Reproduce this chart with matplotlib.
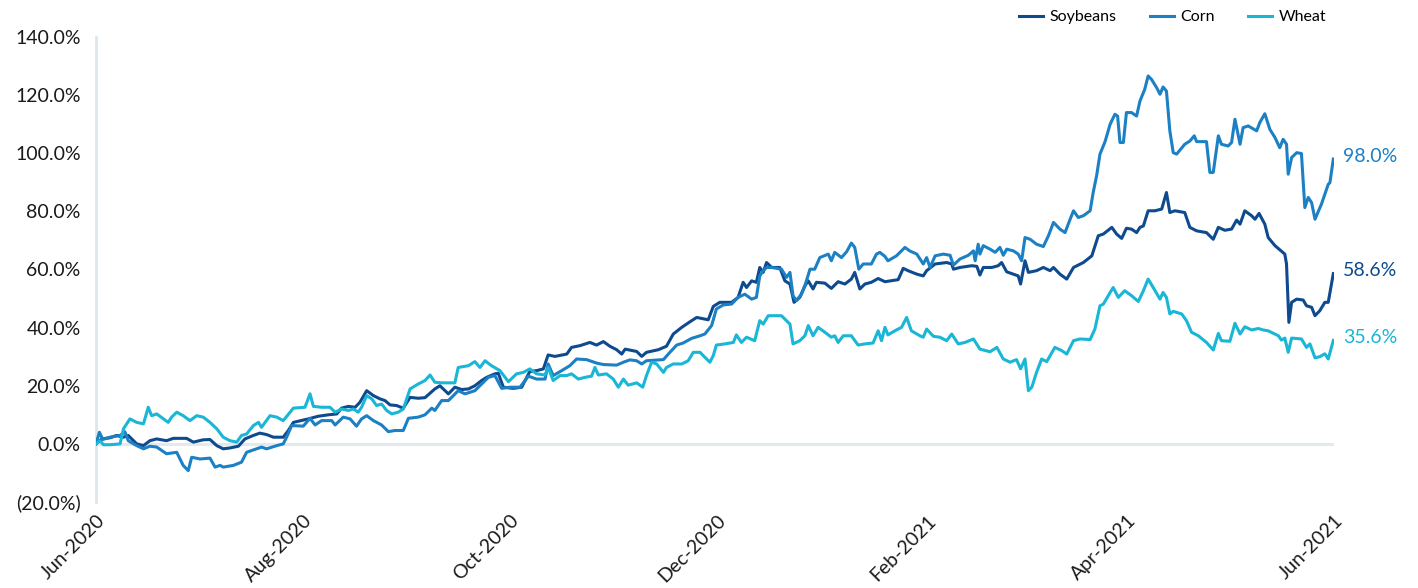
import matplotlib
matplotlib.use("Agg")
import matplotlib.pyplot as plt
import matplotlib.dates as mdates
from matplotlib.ticker import FuncFormatter
from matplotlib.lines import Line2D
import pandas as pd

plt.rcParams['font.family'] = ['Lato', 'DejaVu Sans']

START = pd.Timestamp("2020-06-01")
END = pd.Timestamp("2021-06-01")

# (days since 2020-06-01, cumulative return %)
soybeans = [(0,0.0),(1.7,1.7),(4.1,2.1),(6.1,2.9),(8.1,2.3),(9.5,2.9),(12.0,0.0),(14.0,-0.6),(15.9,1.1),(17.9,1.7),
    (20.8,1.1),(22.8,1.9),(26.7,1.9),(28.7,0.6),(31.6,1.4),(33.6,1.5),(35.6,-0.6),(37.5,-1.7),(39.5,-1.4),(42.0,-0.8),
    (43.9,1.7),(46.4,2.9),(48.3,3.7),(50.3,3.2),(52.3,2.3),(55.2,2.3),(56.7,4.6),(58.2,7.4),(62.6,8.6),(65.5,9.5),
    (68.5,10.0),(71.0,10.3),(72.4,12.3),(74.4,12.9),(76.4,12.6),(77.8,14.3),(79.8,18.3),(81.8,16.6),(83.7,15.5),(85.2,14.9),
    (86.7,13.4),(88.6,13.2),(90.6,12.3),(92.6,16.0),(95.0,15.7),(97.0,15.9),(99.9,18.9),(101.4,20.0),(103.9,17.2),(105.8,19.5),
    (107.8,18.7),(109.8,18.9),(111.7,20.0),(113.7,21.8),(115.2,22.9),(117.6,24.1),(118.6,24.3),(120.1,19.5),(123.0,19.1),(125.5,19.5),
    (127.9,24.9),(129.9,25.2),(131.9,25.8),(133.3,30.6),(135.3,30.1),(138.8,30.9),(140.2,33.2),(142.7,33.8),(145.6,34.9),(147.6,34.0),
    (149.6,35.2),(151.5,33.6),(153.5,32.4),(155.0,30.9),(156.0,32.6),(159.4,31.8),(160.9,30.1),(162.3,31.5),(165.8,32.4),(168.2,33.6),
    (170.2,37.8),(172.7,40.1),(175.1,42.0),(177.1,43.5),(180.5,42.7),(182.0,47.3),(183.9,48.7),(187.4,48.7),(189.3,50.4),(190.8,55.6),
    (191.8,53.8),(193.3,56.1),(194.7,55.6),(195.7,60.7),(196.7,59.0),(197.7,62.4),(199.2,60.7),(201.6,60.7),(203.1,56.1),(204.6,55.0),
    (205.8,48.7),(207.5,50.4),(209.0,54.4),(210.0,56.1),(211.4,53.3),(212.4,55.6),(214.9,55.3),(216.8,53.5),(218.8,55.8),(220.8,55.0),
    (222.7,56.7),(223.7,59.0),(225.2,53.3),(226.7,55.0),(228.6,55.6),(230.6,56.9),(232.6,55.8),(236.5,56.5),(238.0,60.4),(239.4,59.6),
    (242.0,58.4),(243.9,57.8),(244.9,59.6),(247.4,61.9),(250.8,62.4),(252.3,61.9),(252.8,60.1),(254.7,60.7),(258.2,61.3),(259.7,61.1),
    (260.6,58.1),(261.6,60.7),(264.1,60.7),(266.0,61.3),(267.0,62.4),(268.5,59.2),(270.5,58.4),(271.9,57.8),(272.6,55.0),(273.9,63.0),
    (274.9,59.0),(277.3,59.6),(279.3,60.7),(281.3,59.6),(282.3,60.7),(284.2,58.4),(286.2,56.7),(288.2,60.7),(291.1,62.4),(293.6,64.7),
    (295.5,71.6),(297.0,72.2),(299.5,74.5),(300.9,72.2),(302.4,70.7),(303.8,74.2),(305.3,73.9),(306.8,72.7),(307.8,74.5),(308.8,75.0),
    (310.2,80.2),(312.2,80.2),(314.2,80.8),(315.6,86.5),(316.6,79.6),(318.1,80.2),(321.0,79.6),(322.5,74.5),(324.5,73.3),(327.4,72.7),
    (329.4,70.4),(330.9,74.5),(332.8,73.5),(334.8,73.9),(336.3,77.0),(337.3,75.6),(338.7,80.2),(340.7,78.5),(341.7,77.3),(342.9,79.3),
    (344.6,75.6),(345.6,71.0),(347.6,68.2),(350.5,65.3),(351.0,61.9),(351.7,41.8),(352.5,48.7),(354.0,49.8),(355.9,49.5),(356.9,47.5),
    (358.4,47.0),(359.4,44.1),(360.8,45.8),(362.3,48.7),(363.3,48.7),(364.8,58.6)]

corn = [(0,0.0),(1.0,4.0),(2.0,1.5),(4.1,2.3),(7.1,2.9),(8.5,4.2),(9.5,1.1),(12.0,-0.6),(14.0,-1.7),(15.9,-0.8),
    (17.9,-1.1),(20.8,-3.4),(23.8,-2.9),(25.7,-7.4),(27.2,-9.2),(28.2,-4.6),(30.7,-5.2),(33.6,-4.9),(35.1,-8.0),(36.6,-7.4),
    (37.5,-8.0),(40.5,-7.4),(42.9,-6.3),(44.4,-2.9),(47.4,-1.7),(48.8,-1.1),(50.3,-1.7),(53.3,-0.6),(55.2,0.0),(56.2,2.3),
    (57.7,6.3),(61.1,6.1),(63.1,8.8),(64.6,6.5),(66.5,8.0),(69.5,8.0),(70.5,6.5),(72.9,9.2),(74.9,8.6),(76.8,6.1),
    (78.3,8.6),(79.8,9.7),(81.8,8.0),(84.2,6.5),(86.2,4.2),(88.1,4.6),(90.6,4.6),(92.1,8.8),(95.0,9.2),(97.0,10.0),
    (99.0,12.3),(99.9,11.5),(101.9,14.9),(103.9,14.9),(106.8,18.3),(108.8,17.2),(111.7,18.3),(113.7,20.6),(115.7,22.9),(117.6,23.5),
    (119.6,19.1),(122.1,19.5),(125.0,19.5),(127.5,23.3),(129.9,22.3),(132.4,22.3),(133.3,27.5),(134.8,23.5),(137.3,25.2),(139.7,26.9),
    (141.7,29.2),(144.6,29.0),(147.6,27.8),(149.6,27.3),(153.5,27.1),(155.5,28.1),(157.4,28.9),(159.4,28.6),(160.9,27.5),(162.3,28.6),
    (167.3,29.0),(169.2,31.5),(171.2,34.0),(173.1,34.7),(175.6,36.3),(178.1,37.2),(179.5,37.8),(181.5,40.7),(182.9,46.4),(184.9,47.8),
    (187.4,48.1),(189.3,50.4),(191.3,51.5),(193.3,49.8),(194.7,50.4),(195.7,57.8),(196.7,59.6),(197.7,60.7),(199.2,60.7),(202.1,60.1),
    (203.6,57.3),(204.6,59.0),(205.5,51.0),(206.5,49.3),(208.0,51.5),(209.0,54.4),(210.5,60.1),(211.9,60.1),(213.4,64.1),(215.9,65.3),
    (216.8,63.0),(217.8,65.9),(219.8,64.1),(221.3,66.1),(222.7,69.1),(223.7,67.6),(224.9,60.1),(226.2,61.9),(228.6,61.9),(230.1,65.3),
    (231.1,65.9),(232.6,64.5),(233.5,63.0),(236.0,64.7),(238.5,67.6),(239.9,66.4),(242.0,65.3),(243.9,61.9),(244.9,64.1),(245.9,60.7),
    (247.4,64.7),(249.8,65.3),(251.8,64.9),(252.8,61.5),(254.7,63.6),(257.2,64.9),(258.7,66.4),(259.2,63.0),(260.1,68.7),(260.6,65.3),
    (261.6,68.2),(263.6,67.0),(265.1,65.9),(266.5,67.6),(267.5,64.9),(268.5,67.0),(270.5,66.4),(271.9,65.3),(272.9,63.0),(273.9,71.0),
    (275.4,70.4),(277.3,68.7),(279.3,67.9),(280.8,71.6),(282.3,76.2),(284.2,73.9),(285.7,72.7),(287.2,77.3),(288.2,80.2),(289.6,77.9),
    (291.1,78.5),(293.1,80.2),(294.0,86.5),(295.0,92.2),(296.0,99.7),(297.5,104.0),(299.0,110.0),(300.4,113.4),(301.2,112.8),(301.9,103.7),
    (302.9,103.7),(303.8,114.0),(305.3,114.0),(306.8,112.8),(307.8,118.0),(309.2,122.0),(310.2,126.6),(311.2,125.4),(312.7,122.6),(313.7,120.3),
    (314.6,122.8),(315.6,121.4),(316.6,107.7),(317.6,100.2),(318.6,99.7),(321.0,103.1),(322.5,104.2),(323.8,106.0),(324.5,104.0),(327.4,104.0),
    (328.4,93.4),(329.4,93.4),(330.9,106.0),(331.8,103.1),(333.8,102.5),(334.8,103.7),(335.8,111.7),(337.3,103.1),(338.2,108.8),(339.7,109.4),
    (342.2,107.7),(343.1,110.5),(344.6,113.6),(346.1,108.2),(347.6,105.4),(349.0,101.9),(350.0,104.8),(351.0,103.1),(351.5,92.8),(352.5,98.5),
    (354.0,100.2),(355.4,99.9),(356.4,81.3),(357.4,84.8),(358.4,83.0),(359.4,77.3),(361.3,82.5),(363.3,89.3),(363.8,89.9),(364.8,98.0)]

wheat = [(0,0.0),(1.2,1.1),(2.2,-0.3),(4.1,-0.3),(7.1,0.0),(8.1,5.2),(10.0,8.6),(12.0,7.4),(14.0,6.9),(15.4,12.6),
    (16.4,9.7),(17.9,10.3),(19.9,8.6),(21.3,7.4),(22.3,9.2),(23.8,10.9),(25.7,9.7),(27.7,8.0),(29.7,9.7),(31.6,9.2),
    (33.6,7.4),(35.6,5.2),(37.5,2.3),(39.5,1.1),(41.5,0.6),(42.9,2.9),(44.4,3.4),(46.4,6.3),(47.9,7.4),(48.8,5.7),
    (51.3,9.7),(53.3,9.2),(55.2,8.0),(58.2,12.3),(61.6,12.6),(63.1,17.2),(64.1,12.9),(66.5,12.6),(69.0,12.6),(70.5,10.9),
    (72.4,12.0),(74.4,11.5),(75.9,12.0),(77.3,10.9),(78.3,12.6),(79.8,16.6),(81.3,15.5),(82.7,13.2),(84.2,13.7),(85.7,11.5),
    (87.2,10.3),(89.1,10.9),(90.6,12.0),(92.6,18.9),(95.0,20.6),(97.0,21.8),(98.5,23.7),(99.9,21.2),(101.9,21.0),(105.8,21.0),
    (106.8,26.3),(109.8,26.9),(111.7,28.3),(113.2,26.3),(114.7,28.6),(116.6,26.9),(119.1,25.2),(121.6,21.4),(124.0,24.1),(126.0,24.6),
    (127.9,25.8),(129.9,24.1),(132.4,23.7),(133.3,26.3),(134.8,21.8),(136.8,23.5),(138.8,23.5),(140.2,24.1),(142.2,22.3),(144.2,22.9),
    (146.1,23.3),(147.1,26.3),(148.1,23.7),(150.5,24.1),(152.5,22.3),(154.0,19.5),(155.5,22.3),(156.9,20.2),(159.4,21.0),(161.2,19.5),
    (162.3,23.5),(163.8,28.1),(165.3,27.5),(167.3,24.6),(168.2,26.3),(170.2,27.5),(172.7,27.5),(174.6,28.6),(176.1,31.5),(178.1,31.5),
    (179.5,29.8),(181.0,28.1),(182.0,30.4),(182.9,34.0),(185.4,34.4),(187.9,34.9),(188.8,37.5),(190.3,34.9),(191.8,36.7),(194.2,35.5),
    (195.7,42.4),(196.7,41.2),(198.2,44.1),(202.1,44.1),(204.6,41.2),(205.5,34.4),(207.5,35.5),(209.0,37.2),(210.0,40.7),(211.4,37.2),
    (212.9,40.1),(214.9,38.4),(216.8,36.7),(217.8,37.2),(218.8,34.9),(220.3,37.2),(222.7,37.2),(224.7,34.0),(226.7,34.4),(229.1,34.7),
    (230.6,38.9),(231.6,35.5),(232.6,40.1),(233.5,37.5),(235.5,38.9),(237.5,40.1),(239.0,43.5),(240.4,38.9),(242.9,37.2),(243.9,36.7),
    (244.9,39.5),(246.9,37.0),(248.8,36.7),(250.8,35.5),(252.3,37.8),(254.2,34.4),(256.2,34.9),(258.7,36.1),(260.6,32.6),(263.6,31.7),
    (265.6,33.2),(267.5,29.2),(269.5,28.1),(271.4,29.0),(272.6,25.8),(273.9,29.2),(274.9,18.3),(275.9,19.5),(277.3,24.6),(278.8,29.2),
    (280.3,28.3),(282.7,33.2),(284.7,32.1),(286.2,30.9),(288.2,35.5),(290.1,36.1),(293.1,35.9),(294.5,39.5),(296.0,47.5),(297.0,48.1),
    (299.0,52.1),(299.9,53.8),(301.4,50.4),(303.3,52.7),(305.3,51.0),(307.3,49.0),(308.8,52.7),(310.2,56.7),(311.7,53.8),(313.7,49.8),
    (314.6,52.1),(315.6,50.4),(316.6,44.7),(317.6,45.6),(320.1,44.7),(321.5,42.4),(323.0,38.4),(325.0,37.2),(327.4,34.9),(329.4,32.3),
    (330.9,38.0),(331.8,35.5),(334.3,35.3),(335.8,41.5),(337.3,37.8),(338.7,40.3),(340.7,39.2),(342.7,39.7),(344.1,39.2),(345.6,38.9),
    (348.6,37.2),(349.5,35.7),(350.5,36.4),(351.5,31.5),(352.5,36.4),(355.4,36.1),(356.9,33.2),(357.9,34.4),(359.4,29.6),(360.8,30.0),
    (362.3,31.0),(363.3,29.2),(364.8,35.6)]

series_names = ["Soybeans", "Corn", "Wheat"]
series_data = [soybeans, corn, wheat]
series_colors = ["#0d4a8e", "#1b80c4", "#19b6d6"]
y_ticks = [-20, 0, 20, 40, 60, 80, 100, 120, 140]
x_tick_dates = ["2020-06-01", "2020-08-01", "2020-10-01", "2020-12-01", "2021-02-01", "2021-04-01", "2021-06-01"]

fig = plt.figure(figsize=(14.18, 5.88), dpi=100)
ax = fig.add_axes([96/1418, 1 - 502/588, (1334 - 96)/1418, (502 - 37)/588])

ax.axhline(0, color="#e3eaed", lw=2.2, zorder=1)

handles = []
for name, data, col in zip(series_names, series_data, series_colors):
    dates = [START + pd.Timedelta(days=d) for d, _ in data]
    vals = [v for _, v in data]
    ln, = ax.plot(dates, vals, color=col, lw=2.2, solid_joinstyle="round", zorder=3, label=name)
    handles.append(ln)
    ax.annotate(f"{vals[-1]:.1f}%", xy=(dates[-1], vals[-1]), xytext=(7, 2),
                textcoords="offset points", va="center", ha="left", color=col,
                fontsize=14, annotation_clip=False)

ax.set_xlim(START, END)
ax.set_ylim(-20, 140)
ax.set_yticks(y_ticks)
ax.yaxis.set_major_formatter(FuncFormatter(lambda v, p: f"{v:.1f}%" if v >= 0 else f"({-v:.1f}%)"))
ax.set_xticks([pd.Timestamp(d) for d in x_tick_dates])
ax.xaxis.set_major_formatter(mdates.DateFormatter("%b-%Y"))

ax.tick_params(axis="both", length=0, labelsize=14, colors="#1a1a1a")
ax.tick_params(axis="y", pad=11)
ax.tick_params(axis="x", pad=7)
for lab in ax.get_xticklabels():
    lab.set_rotation(45)
    lab.set_ha("right")
    lab.set_va("top")
    lab.set_rotation_mode("anchor")

for s in ["top", "right", "bottom"]:
    ax.spines[s].set_visible(False)
ax.spines["left"].set_color("#dde6ea")
ax.spines["left"].set_linewidth(2)

fig.legend(handles=handles, labels=series_names, loc="center right",
           bbox_to_anchor=(1326/1418, 1 - 17/588), ncol=3, frameon=False,
           fontsize=11.5, handlelength=1.5, handletextpad=0.4, columnspacing=2.1,
           borderpad=0, borderaxespad=0)

fig.savefig("out.png", dpi=100)
